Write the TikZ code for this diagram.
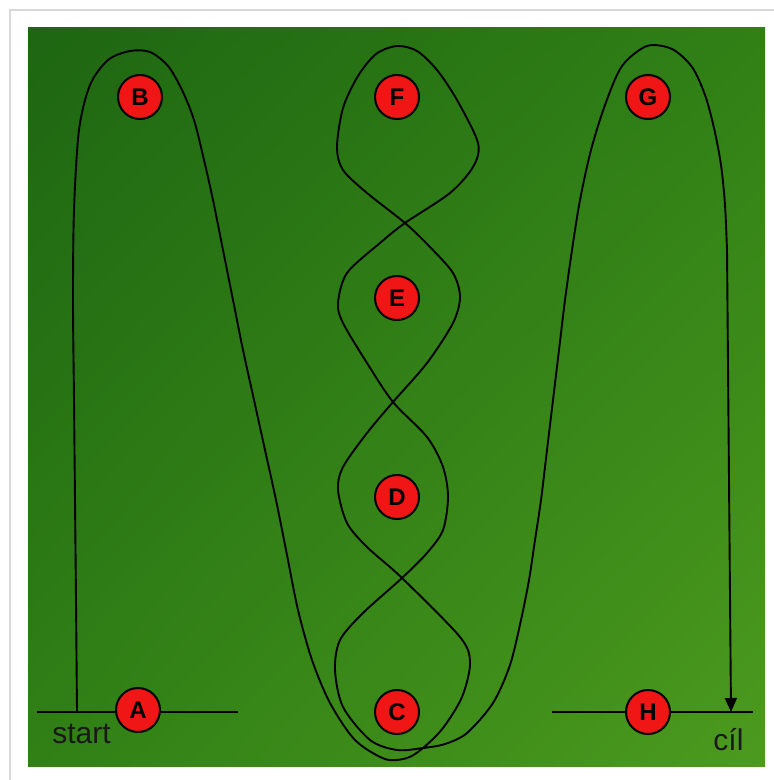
\documentclass[tikz,border=0pt]{standalone}
\usepackage{fontspec}
\setmainfont{Liberation Sans}
\usetikzlibrary{arrows.meta, shadings}

\definecolor{fielddark}{RGB}{30,102,18}
\definecolor{fieldmid}{RGB}{48,128,22}
\definecolor{fieldlight}{RGB}{76,154,30}
\definecolor{markred}{RGB}{240,22,22}

\tikzset{
  station/.style={circle, draw=black, line width=1pt, fill=markred,
    minimum size=22pt, inner sep=0pt, font=\bfseries\fontsize{12}{12}\selectfont},
  route/.style={black, line width=0.95pt, line join=round},
  groundline/.style={black, line width=1.1pt},
  sign/.style={anchor=base west, inner sep=0pt, text=black!90,
    font=\fontsize{15}{15}\selectfont},
}

\begin{document}
\begin{tikzpicture}[x=0.5pt, y=-0.5pt]
    \useasboundingbox (0,0) rectangle (774,780);

    % White card with a faint shadow
    \fill[white] (0,0) rectangle (774,780);
    \draw[black!15, line width=1pt] (10,780) -- (10,10) -- (774,10);

    % Green field
    \shade[upper left=fielddark, upper right=fieldmid,
           lower left=fieldmid, lower right=fieldlight] (28,28) rectangle (765,766);

    % Start and finish lines
    \coordinate (startL) at (37,712);
    \coordinate (startR) at (238,712);
    \coordinate (goalL) at (552,712);
    \coordinate (goalR) at (753,712);
    \draw[groundline] (startL) -- (startR);
    \draw[groundline] (goalL) -- (goalR);

    % Route: up to B, weave through C, D, E, F, back down, then G and the finish
    \coordinate (start) at (77,712);
    \coordinate (goal) at (731,712);
    \draw[route, -{Triangle[length=7pt, width=6pt]}]
      plot[smooth, tension=0.5] coordinates {
        (start) (76,600) (75,500) (74,400) (73,300) (74,210) (79,130) (90,85)
        (108,60) (130,51) (150,52) (168,66) (182,90) (194,120) (204,160)
        (213,200) (223,250) (233,300) (243,350) (254,400) (265,450)
        (276,500) (287,555) (298,610) (312,660) (330,703) (355,740)
        (385,759) (407,758)
        (423,748) (443,728) (462,697) (470,663) (460,637) (402,578)
        (367,547) (347,523) (338,490) (343,467) (367,433) (393,402)
        (427,363) (453,323) (460,297) (453,273) (430,247) (405,223)
        (367,193) (343,170) (337,147) (343,108) (358,76) (376,54) (397,46)
        (417,51) (437,70) (457,100) (478,143) (473,167) (450,193) (405,223)
        (380,243) (347,273) (338,303) (343,323) (367,363) (393,402)
        (427,437) (443,467) (448,497) (443,530) (427,553) (402,578)
        (363,613) (340,640) (335,670) (343,707) (370,740) (397,750)
        (423,748) (445,744) (467,733) (493,703) (510,665) (521,620)
        (529,580) (535,540) (541,500) (547,450) (553,400) (559,350)
        (565,300) (572,250) (580,200) (591,150) (605,105) (622,66)
        (647,46) (672,49) (692,67) (705,95) (714,128) (721,165) (725,205)
        (727,250)
      } -- (goal);

    % Stations
    \node[station] (a) at (138,710) {A};
    \node[station] (b) at (140,97) {B};
    \node[station] (c) at (397,712) {C};
    \node[station] (d) at (397,497) {D};
    \node[station] (e) at (397,298) {E};
    \node[station] (f) at (397,97) {F};
    \node[station] (g) at (648,97) {G};
    \node[station] (h) at (648,712) {H};

    % Labels
    \node[sign] (startlabel) at (52,743) {start};
    \node[sign] (goallabel) at (713,750) {cíl};
\end{tikzpicture}
\end{document}
